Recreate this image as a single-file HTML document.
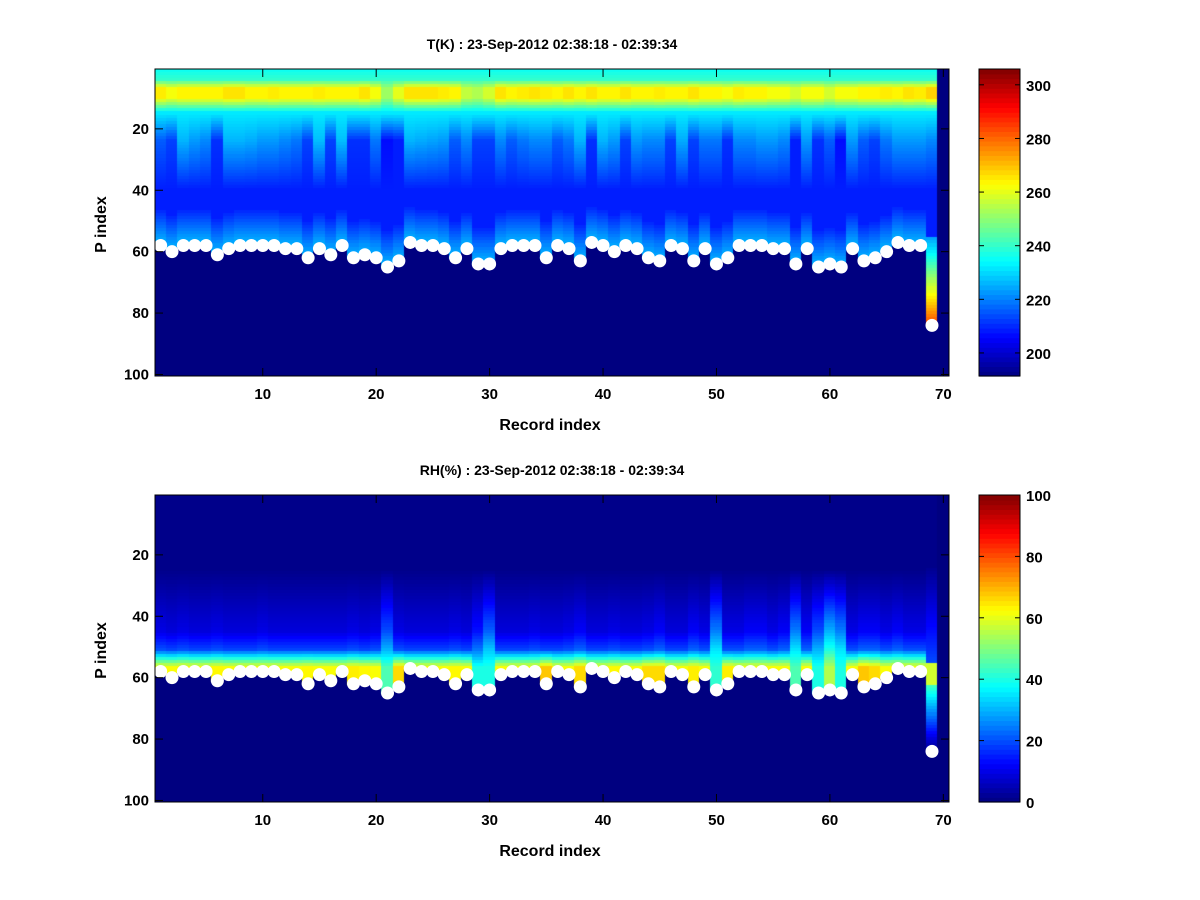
<!DOCTYPE html>
<html><head><meta charset="utf-8">
<style>
body{margin:0;background:#fff;}
#wrap{position:relative;width:1200px;height:900px;background:#fff;font-family:"Liberation Sans",Arial,sans-serif;font-weight:bold;}
canvas{position:absolute;}
</style></head>
<body>
<div id="wrap">
<canvas id="c1" width="794" height="307" style="left:155px;top:69px"></canvas>
<canvas id="c2" width="794" height="307" style="left:155px;top:495px"></canvas>
<svg id="ov" width="1200" height="900" style="position:absolute;left:0;top:0"></svg>
</div>
<script>
// ---- data ----
const records = Array.from({length:70},(_,i)=>i+1);
const surfaceIdx = [58,60,58,58,58,61,59,58,58,58,58,59,59,62,59,61,58,62,61,62,65,63,57,58,58,59,62,59,64,64,59,58,58,58,62,58,59,63,57,58,60,58,59,62,63,58,59,63,59,64,62,58,58,58,59,59,64,59,65,64,65,59,63,62,60,57,58,58,84,null];
const tMid = [216,213,226,223,221,211,226,226,225,223,223,221,219,213,227,213,227,211,211,219,207,209,226,225,224,223,216,221,213,213,221,216,219,221,221,216,219,226,211,226,223,213,223,221,221,213,225,213,219,219,211,221,221,223,223,221,209,223,211,216,207,223,216,213,219,223,223,223,221,null];
const tBand = [265,262,264,264,264,264,266,266,264,264,265,264,264,264,265,264,264,264,266,262,252,260,266,266,266,265,264,256,254,258,266,264,265,266,265,264,266,264,266,264,264,266,264,264,265,264,264,266,264,264,262,265,264,264,262,262,258,262,262,258,262,262,264,264,265,264,266,265,268,null];
const rhSurf = [62,62,63,62,62,63,62,62,62,62,62,62,62,63,62,62,62,64,63,62,45,66,62,62,62,62,63,62,40,40,62,62,62,62,68,62,62,66,62,62,63,62,62,66,66,62,62,64,62,42,64,62,62,62,62,62,45,62,40,55,40,62,68,66,62,62,62,62,55,null];
const rhMid = [10,9,10,9,9,10,9,9,9,10,9,9,9,9,9,9,9,10,9,10,20,10,9,9,9,9,10,9,14,22,9,9,9,10,9,9,10,12,9,9,10,9,9,10,12,9,9,12,10,25,10,10,12,12,10,12,25,12,20,30,25,10,12,12,10,12,10,10,14,null];
const tTicks=[200,220,240,260,280,300], rhTicks=[0,20,40,60,80,100];
const xTicks=[10,20,30,40,50,60,70], yTicks=[20,40,60,80,100];
const tClim=[191.4,305.9], rhClim=[0,100];

// ---- helpers ----
const X0=155,W=794,H=307,NC=70,NR=100;
const xs=r=>X0+(r-0.5)/NC*W;
const ys=(p,top)=>top+(p-0.5)/NR*H;
function jet(v){v=Math.max(0,Math.min(1,v));
 const f=x=>Math.max(0,Math.min(1,x));
 const r=f(Math.min(4*v-1.5,-4*v+4.5)),g=f(Math.min(4*v-0.5,-4*v+3.5)),b=f(Math.min(4*v+0.5,-4*v+2.5));
 return `rgb(${Math.round(r*255)},${Math.round(g*255)},${Math.round(b*255)})`;}
const lerp=(a,b,t)=>a+(b-a)*Math.max(0,Math.min(1,t));
function tVal(c,p){const s=surfaceIdx[c];if(s==null||p>s)return tClim[0];
 const m=tMid[c],b=tBand[c];let v;
 if(p<=4)v=lerp(236,240,(p-1)/3);else if(p<=7)v=lerp(240,b,(p-4)/3);else if(p<=10)v=b;else if(p<=15)v=lerp(b,232,(p-10)/5);
 else if(p<=24)v=lerp(232,m,(p-15)/9);else if(p<=40)v=lerp(m,209,(p-24)/16);else v=209;
 if(c===68&&p>55)return lerp(222,284,(p-55)/29);
 if(p>s-12)v=lerp(v,227,(p-(s-12))/12);return v;}
function rhVal(c,p){const s=surfaceIdx[c];if(s==null||p>s)return 0;
 const m=rhMid[c],sv=rhSurf[c];
 if(c===68){if(p<25)return 1;if(p<56)return lerp(2,20,(p-25)/31);if(p<=62)return 58;return lerp(45,5,(p-62)/20);}
 let v;if(p<=25)v=1;else if(p<=45)v=lerp(1,m,(p-25)/20);else if(p<=51)v=lerp(m,m+10,(p-45)/6);
 else if(p<=57)v=lerp(m+10,sv,(p-51)/6);else v=sv;return v;}
function draw(id,fn,clim){const ctx=document.getElementById(id).getContext('2d');
 for(let c=0;c<NC;c++)for(let p=1;p<=NR;p++){
  ctx.fillStyle=jet((fn(c,p)-clim[0])/(clim[1]-clim[0]));
  const x0=Math.floor((c)/NC*W),x1=Math.floor((c+1)/NC*W),y0=Math.floor((p-1)/NR*H),y1=Math.floor(p/NR*H);
  ctx.fillRect(x0,y0,x1-x0+1,y1-y0+1);}}
draw('c1',tVal,tClim);draw('c2',rhVal,rhClim);

const NS='http://www.w3.org/2000/svg',svg=document.getElementById('ov');
function el(tag,a){const e=document.createElementNS(NS,tag);for(const k in a)e.setAttribute(k,a[k]);svg.appendChild(e);return e;}
function txt(s,x,y,anchor,rot,fs){const e=el('text',{x:x,y:y,'text-anchor':anchor||'middle','font-family':'Liberation Sans, Arial, sans-serif','font-size':fs||'15','font-weight':'bold',fill:'#000'});
 if(rot)e.setAttribute('transform',`rotate(-90 ${x} ${y})`);e.textContent=s;return e;}

function panel(top,title,name,cb,clim){
 surfaceIdx.forEach((s,i)=>{if(s==null)return;
  const d=el('circle',{cx:xs(records[i]),cy:ys(s,top),r:6.5,fill:'#fff'});
  
  });
 const box=el('rect',{x:X0,y:top,width:W,height:H,fill:'none',stroke:'#000','stroke-width':1});
 
 xTicks.forEach(t=>{const x=xs(t);el('line',{x1:x,x2:x,y1:top+H,y2:top+H-8,stroke:'#000'});el('line',{x1:x,x2:x,y1:top,y2:top+8,stroke:'#000'});
  const l=txt(t,x,top+H+23);});
 yTicks.forEach(t=>{const y=ys(t,top);el('line',{x1:X0,x2:X0+8,y1:y,y2:y,stroke:'#000'});el('line',{x1:X0+W,x2:X0+W-8,y1:y,y2:y,stroke:'#000'});
  const l=txt(t,X0-6,y+5,'end');});
 let e=txt(title,552,top-20,'middle',false,'14');
 e=txt('Record index',550,top+H+54,'middle',false,'16');
 e=txt('P index',106,top+H/2+2,'middle',true,'16');
 const cx=979,cw=41,n=64;
 for(let i=0;i<n;i++){el('rect',{x:cx,y:top+H-(i+1)*H/n,width:cw,height:H/n+0.6,fill:jet((i+0.5)/n)});}
 const cbb=el('rect',{x:cx,y:top,width:cw,height:H,fill:'none',stroke:'#000'});
 
 cb.forEach(t=>{const y=top+H-(t-clim[0])/(clim[1]-clim[0])*H;
  el('line',{x1:cx,x2:cx+5,y1:y,y2:y,stroke:'#000'});el('line',{x1:cx+cw,x2:cx+cw-5,y1:y,y2:y,stroke:'#000'});
  const l=txt(t,cx+cw+6,y+6,'start');});
}
panel(69,'T(K) : 23-Sep-2012 02:38:18 - 02:39:34','temperature',tTicks,tClim);
panel(495,'RH(%) : 23-Sep-2012 02:38:18 - 02:39:34','rh',rhTicks,rhClim);
</script>
</body></html>
